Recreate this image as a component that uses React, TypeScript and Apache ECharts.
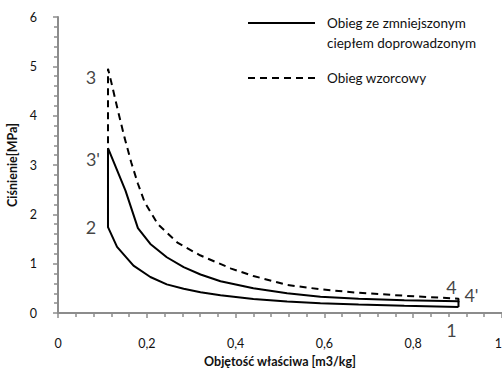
import React, { useEffect, useRef } from "react";
import * as echarts from "echarts";

// Compression 1 -> 2 (reduced & standard cycle share it)
const compressionV = [0.902, 0.78, 0.677, 0.591, 0.516, 0.44, 0.366, 0.321, 0.283, 0.245, 0.208, 0.17, 0.133, 0.1126];
const compressionP = [0.12, 0.145, 0.17, 0.2, 0.235, 0.285, 0.36, 0.42, 0.49, 0.58, 0.73, 0.96, 1.34, 1.74];

// Expansion 3' -> 4' (reduced heat input)
const expReducedV = [0.1126, 0.152, 0.18, 0.208, 0.245, 0.283, 0.321, 0.366, 0.44, 0.516, 0.591, 0.677, 0.78, 0.902];
const expReducedP = [3.34, 2.48, 1.72, 1.4, 1.13, 0.93, 0.78, 0.645, 0.5, 0.4, 0.33, 0.29, 0.26, 0.24];

// Expansion 3 -> 4 (standard cycle)
const expStandardV = [0.1126, 0.12, 0.135, 0.15, 0.165, 0.18, 0.195, 0.225, 0.27, 0.32, 0.39, 0.44, 0.516, 0.591, 0.677, 0.78, 0.902];
const expStandardP = [4.95, 4.68, 4.1, 3.55, 3.05, 2.62, 2.25, 1.8, 1.42, 1.17, 0.9, 0.75, 0.57, 0.48, 0.41, 0.35, 0.29];

const pointNames = ["3", "3'", "2", "4", "4'", "1"];
const pointV = [0.1126, 0.1126, 0.1126, 0.902, 0.902, 0.902];
const pointP = [4.95, 3.34, 1.74, 0.29, 0.24, 0.12];
const pointOffsets: [number, number][] = [[-17, 8], [-15, 11], [-17, 0], [-7, -12], [13, -6], [-7, 23]];

const legendNames = ["Obieg ze zmniejszonym\nciepłem doprowadzonym", "Obieg wzorcowy"];
const xTicks = { min: 0, max: 1, interval: 0.2 };
const yTicks = { min: 0, max: 6, interval: 1 };

const FONT = "Lato";
const TEXT = "#111";

export default function App() {
  const ref = useRef<HTMLDivElement>(null);
  useEffect(() => {
    if (!ref.current) return;
    const chart = echarts.init(ref.current, null, { renderer: "svg" });

    const reducedData: [number, number][] = [];
    compressionV.forEach((v, i) => reducedData.push([v, compressionP[i]]));
    expReducedV.forEach((v, i) => reducedData.push([v, expReducedP[i]]));
    reducedData.push([compressionV[0], compressionP[0]]);

    const standardData: [number, number][] = [];
    standardData.push([compressionV[compressionV.length - 1], compressionP[compressionP.length - 1]]);
    expStandardV.forEach((v, i) => standardData.push([v, expStandardP[i]]));
    standardData.push([compressionV[0], compressionP[0]]);

    const labelData = pointNames.map((n, i) => ({
      name: n,
      value: [pointV[i], pointP[i]],
      label: { offset: pointOffsets[i] },
    }));

    const axisCommon = {
      axisLine: { show: true, lineStyle: { color: "#8c8c8c", width: 2 } },
      axisTick: { show: true, length: 5, lineStyle: { color: "#8c8c8c", width: 1.5 } },
      minorTick: { show: true, splitNumber: 5, length: 4, lineStyle: { color: "#8c8c8c", width: 1.5 } },
      splitLine: { show: false },
      minorSplitLine: { show: false },
    };

    chart.setOption({
      animation: false,
      textStyle: { fontFamily: FONT },
      grid: { left: 58, right: 0, top: 17, bottom: 56, containLabel: false, outerBoundsMode: "none" },
      xAxis: {
        type: "value",
        ...xTicks,
        ...axisCommon,
        axisLabel: {
          margin: 24,
          fontSize: 12.5,
          color: TEXT,
          fontFamily: FONT,
          alignMaxLabel: "right",
          formatter: (v: number) => String(Number(v.toFixed(1))).replace(".", ","),
        },
        name: "Objętość właściwa [m3/kg]",
        nameLocation: "middle",
        nameGap: 41,
        nameTextStyle: { fontWeight: "bold", fontSize: 12.5, color: TEXT, fontFamily: FONT },
      },
      yAxis: {
        type: "value",
        ...yTicks,
        ...axisCommon,
        axisLabel: { margin: 21, fontSize: 12.5, color: TEXT, fontFamily: FONT },
        name: "Ciśnienie[MPa]",
        nameLocation: "middle",
        nameGap: 31,
        nameTextStyle: { fontWeight: "bold", fontSize: 12.5, color: TEXT, fontFamily: FONT },
      },
      series: [
        {
          name: legendNames[1],
          type: "line",
          data: standardData,
          showSymbol: false,
          symbol: "none",
          lineStyle: { color: "#000", width: 2, type: [7, 5] },
          z: 2,
        },
        {
          name: legendNames[0],
          type: "line",
          data: reducedData,
          showSymbol: false,
          symbol: "none",
          lineStyle: { color: "#000", width: 2 },
          z: 3,
        },
        {
          type: "scatter",
          data: labelData,
          symbolSize: 0,
          silent: true,
          z: 4,
          label: {
            show: true,
            position: "inside",
            formatter: (p: any) => p.name,
            fontSize: 18,
            color: TEXT,
            fontFamily: FONT,
            align: "center",
            verticalAlign: "middle",
          },
        },
      ],
      graphic: [
        {
          type: "line",
          shape: { x1: 248, y1: 23, x2: 315, y2: 23 },
          style: { stroke: "#000", lineWidth: 2 },
        },
        {
          type: "text",
          x: 327,
          y: 13,
          style: {
            text: legendNames[0],
            fontSize: 13.5,
            lineHeight: 20,
            fill: TEXT,
            fontFamily: FONT,
            verticalAlign: "top",
          },
        },
        {
          type: "line",
          shape: { x1: 248, y1: 78, x2: 315, y2: 78 },
          style: { stroke: "#000", lineWidth: 2, lineDash: [7, 5] },
        },
        {
          type: "text",
          x: 327,
          y: 78,
          style: {
            text: legendNames[1],
            fontSize: 13.5,
            fill: TEXT,
            fontFamily: FONT,
            verticalAlign: "middle",
          },
        },
      ],
    });
    return () => chart.dispose();
  }, []);
  return <div ref={ref} style={{ width: 502, height: 369, position: "absolute", left: 0, top: 0, background: "#fff" }} />;
}
